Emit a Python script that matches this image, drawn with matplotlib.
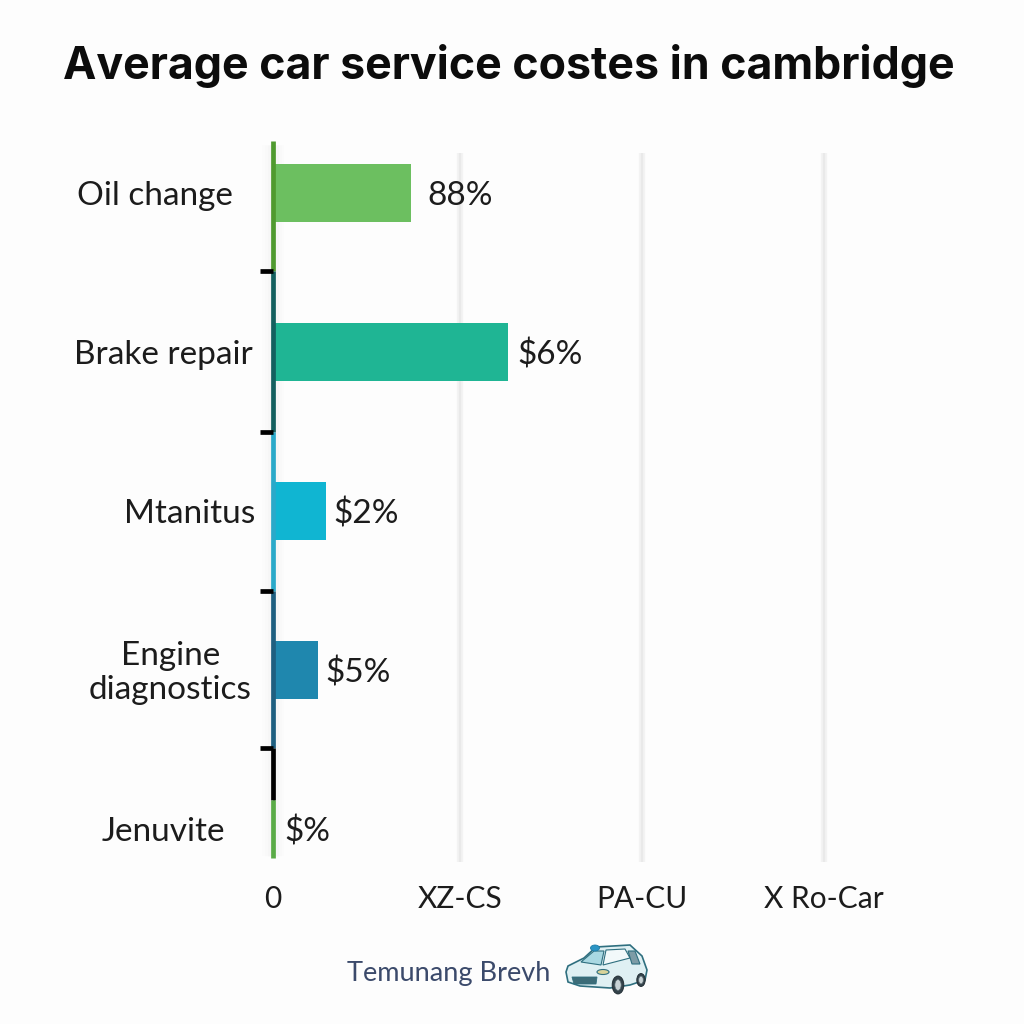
import matplotlib
matplotlib.use("Agg")
import matplotlib.pyplot as plt
from matplotlib.patches import Polygon, Ellipse

plt.rcParams['font.family'] = ['Lato', 'DejaVu Sans']

title = "Average car service costes in cambridge"
categories = ["Oil change", "Brake repair", "Mtanitus", "Engine\ndiagnostics", "Jenuvite"]
values = [138, 235, 53, 45, 2]
value_labels = ["88%", "$6%", "$2%", "$5%", "$%"]
bar_colors = ["#6cbf60", "#1fb594", "#10b5d2", "#1f87ae", "#5aab47"]
xticks = [0, 187, 369, 551]
xticklabels = ["0", "XZ-CS", "PA-CU", "X Ro-Car"]
footer = "Temunang Brevh"
axis_segments = [(-0.33, 0.49, "#4f9a2f"), (0.49, 1.5, "#14605f"), (1.5, 2.5, "#2aa9c9"),
                 (2.5, 3.49, "#1e5f80"), (3.49, 3.82, "#000000"), (3.82, 4.18, "#5aab47")]
sep_ticks = [0.49, 1.5, 2.5, 3.49]
label_right = [-40, -20, -18, -21, -48]
value_pad = [16, 9, 7, 7, 9]

W = H = 1024
fig = plt.figure(figsize=(10.24, 10.24), dpi=100, facecolor="#fdfdfd")
L, R, T, B = 273, 824, 141, 857
ax = fig.add_axes([L / W, 1 - B / H, (R - L) / W, (B - T) / H])
ax.patch.set_alpha(0)
ax.set_xlim(0, 551)
ax.set_ylim(4.176, -0.327)
for s in ax.spines.values():
    s.set_visible(False)

# soft gridlines
for x in xticks[1:]:
    ax.vlines(x, -0.25, 4.21, color="#f3f3f3", lw=4.5, clip_on=False, zorder=0)
    ax.vlines(x, -0.25, 4.21, color="#e9e9e9", lw=1.6, clip_on=False, zorder=0)

# soft shadow beside the axis
for w, a in [(4, 0.012), (8, 0.010), (12, 0.008), (16, 0.006)]:
    ax.vlines(0, -0.3, 4.17, color="#000000", alpha=a, lw=w, clip_on=False, zorder=0)

y = list(range(len(categories)))
ax.barh(y, values, height=0.365, color=bar_colors, zorder=2)

for y0, y1, c in axis_segments:
    ax.vlines(0, y0, y1, color=c, lw=3.4, clip_on=False, zorder=3)
ax.hlines(sep_ticks, -13, 0, color="#000000", lw=3.4, clip_on=False, zorder=4)

for i, cat in enumerate(categories):
    ax.annotate(cat, (0, i), xytext=(label_right[i] * 0.72, -2), textcoords="offset points",
                ha="right", va="center", multialignment="center", fontsize=24,
                color="#1c1c1c", linespacing=1.15, annotation_clip=False)
    ax.annotate(value_labels[i], (values[i], i), xytext=(value_pad[i] * 0.72, -2),
                textcoords="offset points", ha="left", va="center", fontsize=24,
                color="#1c1c1c", annotation_clip=False)

ax.set_yticks([])
ax.set_xticks(xticks)
ax.set_xticklabels(xticklabels, fontsize=21.5, color="#1c1c1c")
ax.tick_params(axis="x", length=0, pad=20)

fig.text(509 / W, 1 - 66 / H, title, ha="center", va="center", fontsize=32.2,
         fontweight="bold", color="#0c0c0c", family=["Inter", "DejaVu Sans"])
fig.text(347 / W, 1 - 974 / H, footer, ha="left", va="center", fontsize=19.5, color="#3b4a6b")

# small car icon, drawn in pixel coordinates
ic = fig.add_axes([0, 0, 1, 1])
ic.set_xlim(0, W)
ic.set_ylim(H, 0)
ic.axis("off")
ic.patch.set_alpha(0)
ol = "#2f6f7f"
ic.add_patch(Polygon([(566, 972), (568, 966), (584, 958), (596, 947), (630, 945), (642, 956),
                      (647, 970), (645, 980), (630, 985), (610, 988), (580, 986), (568, 982)],
                     closed=True, fc="#dff0f3", ec=ol, lw=1.2, zorder=2))
ic.add_patch(Polygon([(581, 962), (594, 951), (604, 951), (601, 965)], closed=True,
                     fc="#a9d8e2", ec=ol, lw=0.8, zorder=3))
ic.add_patch(Polygon([(606, 950), (625, 949), (630, 958), (603, 965)], closed=True,
                     fc="#f2f9fa", ec=ol, lw=0.8, zorder=3))
ic.add_patch(Polygon([(628, 951), (635, 951), (640, 964), (632, 964)], closed=True,
                     fc="#7d9ca6", ec=ol, lw=0.8, zorder=3))
ic.add_patch(Ellipse((595, 948), 9, 6, fc="#2b94c4", ec="#1f7da8", lw=0.6, zorder=4))
ic.add_patch(Polygon([(572, 977), (597, 977), (596, 984), (574, 984)], closed=True,
                     fc="#3c6c78", ec=ol, lw=0.6, zorder=3))
ic.add_patch(Ellipse((603, 972), 12, 5, fc="#d8d49a", ec=ol, lw=0.8, zorder=3))
for cx, cy, r in [(618, 985, 9), (641, 980, 6.5)]:
    ic.add_patch(Ellipse((cx, cy), r * 1.3, r * 2, fc="#33424a", ec="#1e2a30", lw=0.6, zorder=4))
    ic.add_patch(Ellipse((cx, cy), r * 0.7, r * 1.2, fc="#c9d3d6", ec="#5a6a70", lw=0.5, zorder=5))

fig.savefig("out.png", dpi=100, facecolor=fig.get_facecolor())
